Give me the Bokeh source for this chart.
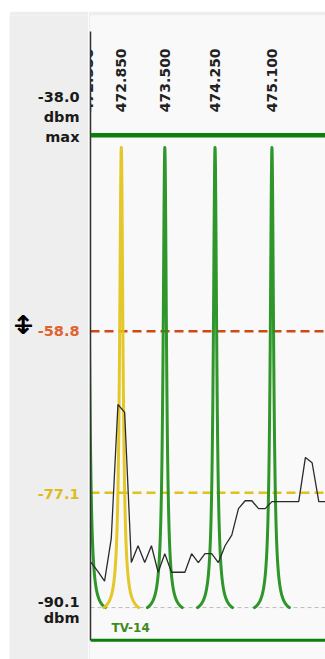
import numpy as np
from bokeh.plotting import figure
from bokeh.layouts import row
from bokeh.models import Range1d, Span, FixedTicker, ColumnDataSource
from bokeh.embed import file_html
from bokeh.resources import INLINE
from bokeh.core.properties import value

# ---------------- data ----------------
channel_freqs = [472.350, 472.850, 473.500, 474.250, 475.100]
channel_labels = ["472.350", "472.850", "473.500", "474.250", "475.100"]
channel_colors = ["#23901f", "#e3c41d", "#23901f", "#23901f", "#23901f"]

scan_freqs = [472.3, 472.4, 472.5, 472.6, 472.7, 472.8, 472.9, 473.0, 473.1, 473.2,
              473.3, 473.4, 473.5, 473.6, 473.7, 473.8, 473.9, 474.0, 474.1, 474.2,
              474.3, 474.4, 474.5, 474.6, 474.7, 474.8, 474.9, 475.0, 475.1, 475.2,
              475.3, 475.4, 475.5, 475.6, 475.7, 475.8, 475.9, 476.0]
scan_dbm = [-84.0, -85.0, -86.0, -87.1, -82.3, -67.1, -68.0, -85.0, -83.1, -85.0,
            -83.1, -86.1, -84.0, -86.1, -86.1, -86.1, -84.0, -85.0, -84.0, -84.0,
            -85.0, -83.1, -81.9, -78.9, -78.0, -78.0, -78.9, -78.9, -78.1, -78.1,
            -78.1, -78.1, -78.1, -73.1, -73.7, -78.1, -78.1, -78.1]

level_max = -38.0
level_floor = -90.1
threshold_red = -58.8
threshold_yellow = -77.1
tv_channel = "TV-14"

# left scale labels: text, level, colour, pixel offset below the level
scale_texts = ["-38.0", "dbm", "max", "-58.8", "-77.1", "-90.1", "dbm"]
scale_levels = [level_max, level_max, level_max, threshold_red, threshold_yellow,
                level_floor, level_floor]
scale_colors = ["#1a1a1a", "#1a1a1a", "#1a1a1a", "#e0632f", "#dcbc22", "#1a1a1a", "#1a1a1a"]
scale_offsets = [-51, -31, -11, 0, 1, -6, 10]

# display extents of the scan area (dBm)
scan_top_line = -36.6
scan_bottom_line = -93.8
axis_top = -24.9

x_start, x_end = 472.39, 475.90
y_range = Range1d(-95.98, -23.05)

FONT = "DejaVu Sans"
GRAY = "#eeeeee"
H = 648

# ---------------- left scale panel ----------------
left = figure(width=79, height=H, output_backend="svg", toolbar_location=None,
              x_range=Range1d(0, 1), y_range=y_range, x_axis_location=None,
              y_axis_location=None, min_border_left=0, min_border_right=0,
              min_border_top=4, min_border_bottom=0)
left.margin = (11, 0, 0, 9)
left.border_fill_color = GRAY
left.background_fill_color = GRAY
left.outline_line_color = None
left.grid.visible = False

ssrc = ColumnDataSource(dict(x=[1] * len(scale_texts), y=scale_levels, t=scale_texts,
                             c=scale_colors, o=scale_offsets))
left.text(x="x", y="y", text="t", text_color="c", y_offset="o", x_offset=-9,
          source=ssrc, text_align="right", text_baseline="alphabetic",
          text_font=value(FONT), text_font_style="bold", text_font_size="14.5px")

# mouse cursor mark seen beside the threshold label
left.text(x=[0], y=[threshold_red], text=["↕"], x_offset=14, y_offset=-6,
          text_align="center", text_baseline="middle", text_font=value(FONT),
          text_font_style="bold", text_font_size="26px", text_color="#000000")
left.text(x=[0], y=[threshold_red], text=["—"], x_offset=14, y_offset=-7,
          text_align="center", text_baseline="middle", text_font=value(FONT),
          text_font_style="bold", text_font_size="19px", text_color="#000000")

# ---------------- scan panel ----------------
p = figure(width=237, height=H, output_backend="svg", toolbar_location=None,
           x_range=Range1d(x_start, x_end), y_range=y_range,
           x_axis_location=None, min_border_left=2, min_border_right=0,
           min_border_top=4, min_border_bottom=0)
p.margin = (11, 0, 0, 0)
p.border_fill_color = GRAY
p.background_fill_color = "#f9f9f9"
p.outline_line_color = None
p.grid.visible = False

ax = p.yaxis[0]
ax.ticker = FixedTicker(ticks=[])
ax.major_tick_line_color = None
ax.minor_tick_line_color = None
ax.major_tick_out = 0
ax.major_tick_in = 0
ax.minor_tick_out = 0
ax.major_label_standoff = 0
ax.major_label_text_font_size = "0px"
ax.axis_line_color = "#333333"
ax.axis_line_width = 1.5
ax.bounds = (scan_bottom_line, axis_top)

# threshold / reference lines
p.add_layout(Span(location=level_floor, dimension="width", line_color="#bbbbbb",
                  line_width=1, line_dash="4 3", level="underlay"))
p.add_layout(Span(location=threshold_red, dimension="width", line_color="#cf4a12",
                  line_width=2.5, line_dash="9 5", level="underlay"))
p.add_layout(Span(location=threshold_yellow, dimension="width", line_color="#e0c21c",
                  line_width=2.5, line_dash="9 5", level="underlay"))
p.add_layout(Span(location=scan_top_line, dimension="width", line_color="#0b7e0b",
                  line_width=4.5))
p.add_layout(Span(location=scan_bottom_line, dimension="width", line_color="#0b7e0b",
                  line_width=3))

# channel shapes
g = 0.03
half = 0.26
d = np.linspace(-half, half, 261)
L = 1.0 / (1.0 + (d / g) ** 2)
Lend = 1.0 / (1.0 + (half / g) ** 2)
shape = (L - Lend) / (1.0 - Lend)
xs = [list(f + d) for f in channel_freqs]
ys = [list(level_floor + (level_max - level_floor) * shape) for _ in channel_freqs]
p.multi_line(xs=xs, ys=ys, line_color=channel_colors, line_width=3, line_alpha=0.95,
             line_join="round", line_cap="round")

# scan trace
p.line(scan_freqs, scan_dbm, line_color="#2a2a2a", line_width=1.3)

# rotated channel labels
src = ColumnDataSource(dict(x=channel_freqs, y=[scan_top_line] * len(channel_freqs),
                            t=channel_labels))
p.text(x="x", y="y", text="t", source=src, angle=np.pi / 2, text_align="left",
       text_baseline="middle", y_offset=-23, text_font=value(FONT), text_font_style="bold",
       text_font_size="14px", text_color="#222222")

# TV channel label
p.text(x=[x_start], y=[scan_bottom_line], text=[tv_channel], x_offset=21, y_offset=-12,
       text_align="left", text_baseline="alphabetic", text_font=value(FONT),
       text_font_style="bold", text_font_size="12px", text_color="#3f8a1c")

layout = row(left, p)
open("out.html", "w").write(file_html(layout, INLINE))
